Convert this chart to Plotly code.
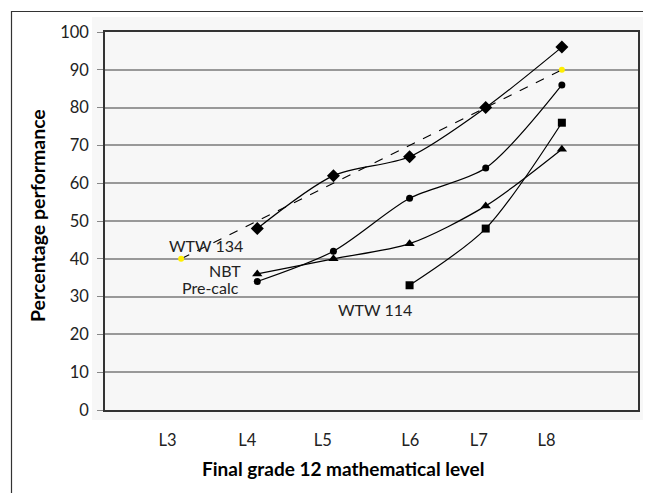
import plotly.graph_objects as go

# ---- data ----
levels = [3, 4, 5, 6, 7, 8]
tick_labels = ["L3", "L4", "L5", "L6", "L7", "L8"]

wtw134_x = [4, 5, 6, 7, 8]
wtw134_y = [48, 62, 67, 80, 96]

precalc_x = [4, 5, 6, 7, 8]
precalc_y = [34, 42, 56, 64, 86]

nbt_x = [4, 5, 6, 7, 8]
nbt_y = [36, 40, 44, 54, 69]

wtw114_x = [6, 7, 8]
wtw114_y = [33, 48, 76]

trend_x = [3, 8]
trend_y = [40, 90]

# ---- style ----
FONT = "Lato"
label_offsets = [-0.18, -0.13, -0.14, 0.01, -0.09, -0.2]
tick_positions = [lv + off for lv, off in zip(levels, label_offsets)]

# page pixel geometry (page has an 8px body offset)
OFF = 8
PL, PR, PT, PB = 105 - OFF, 638 - OFF, 32 - OFF, 410 - OFF
W, H = 651 - OFF, 493 - OFF
PW, PH = PR - PL, PB - PT


def px(x):
    return (x - OFF - PL) / PW


def py(y):
    return (PB - (y - OFF)) / PH


fig = go.Figure()

line_style = dict(color="black", width=1.2, shape="spline", smoothing=0.8)

fig.add_trace(go.Scatter(x=trend_x, y=trend_y, mode="lines+markers",
                         line=dict(color="black", width=1.1, dash="dash"),
                         marker=dict(symbol="circle", size=6, color="#ffee00"),
                         name="WTW 134 trend"))
fig.add_trace(go.Scatter(x=wtw134_x, y=wtw134_y, mode="lines+markers", line=line_style,
                         marker=dict(symbol="diamond", size=10, color="black"), name="WTW 134"))
fig.add_trace(go.Scatter(x=precalc_x, y=precalc_y, mode="lines+markers", line=line_style,
                         marker=dict(symbol="circle", size=7, color="black"), name="Pre-calc"))
fig.add_trace(go.Scatter(x=nbt_x, y=nbt_y, mode="lines+markers", line=line_style,
                         marker=dict(symbol="triangle-up", size=9, color="black"), name="NBT"))
fig.add_trace(go.Scatter(x=wtw114_x, y=wtw114_y, mode="lines+markers", line=line_style,
                         marker=dict(symbol="square", size=8, color="black"), name="WTW 114"))

annots = [
    dict(x=3.33, y=43.5, text="WTW 134", xanchor="center", yanchor="middle"),
    dict(x=3.81, y=36.8, text="NBT", xanchor="right", yanchor="middle"),
    dict(x=3.79, y=32.4, text="Pre-calc", xanchor="right", yanchor="middle"),
    dict(x=5.55, y=26.5, text="WTW 114", xanchor="center", yanchor="middle"),
]
for a in annots:
    a.update(showarrow=False, xref="x", yref="y", font=dict(family=FONT, size=16, color="#222"))

annots.append(dict(x=px(343), y=py(468), xref="paper", yref="paper",
                   text="<b>Final grade 12 mathematical level</b>", showarrow=False,
                   xanchor="center", yanchor="middle",
                   font=dict(family=FONT, size=19, color="black")))
annots.append(dict(x=px(37), y=py(216), xref="paper", yref="paper",
                   text="<b>Percentage performance</b>", showarrow=False, textangle=-90,
                   xanchor="center", yanchor="middle",
                   font=dict(family=FONT, size=19.5, color="black")))

shapes = [
    dict(type="rect", xref="paper", yref="paper",
         x0=px(92), x1=px(643), y0=py(420), y1=py(17),
         fillcolor="#f7f7f7", line=dict(width=0), layer="below"),
    dict(type="rect", xref="paper", yref="paper",
         x0=px(11.5), x1=px(700), y0=py(560), y1=py(11.5),
         fillcolor="rgba(0,0,0,0)", line=dict(color="#333", width=1.2), layer="below"),
]

fig.update_layout(
    width=W, height=H,
    margin=dict(l=PL, r=W - PR, t=PT, b=H - PB),
    paper_bgcolor="white",
    plot_bgcolor="#f7f7f7",
    showlegend=False,
    annotations=annots,
    shapes=shapes,
    font=dict(family=FONT, color="black"),
)
fig.update_xaxes(range=[2, 9], tickvals=tick_positions, ticktext=tick_labels,
                 ticks="", showgrid=False, zeroline=False, showline=True, mirror=True,
                 linecolor="#333", linewidth=1.5, ticklabelstandoff=14,
                 tickfont=dict(family=FONT, size=16.5, color="#222"))
fig.update_yaxes(range=[0, 100], dtick=10, ticks="outside", ticklen=6, tickcolor="#888",
                 showgrid=True, gridcolor="#999999", gridwidth=1.5, zeroline=False,
                 showline=True, mirror=True, linecolor="#333", linewidth=1.5,
                 ticklabelstandoff=5,
                 tickfont=dict(family=FONT, size=16.5, color="#222"))

fig.write_html("out.html")
